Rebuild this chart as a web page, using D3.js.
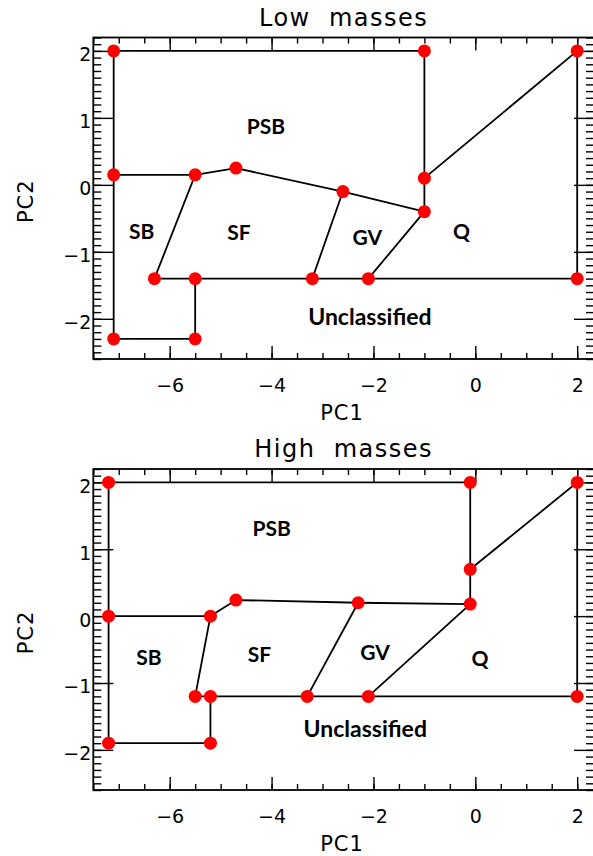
<!DOCTYPE html>
<html>
<head>
<meta charset="utf-8">
<script src="https://cdn.jsdelivr.net/npm/d3@7"></script>
<style>
  body { margin: 0; background: #fff; }
  svg { display: block; }
</style>
</head>
<body>
<div id="chart"></div>
<script>
// region names, shared by both panels
const regionNames = ["PSB", "SB", "SF", "GV", "Q", "Unclassified"];

// low masses: boundary polylines (PC1, PC2) and the nodes
const lowLines = [
  [[-7.1, 2], [-1, 2], [-1, -0.4]],
  [[-1, 0.1], [2, 2], [2, -1.4]],
  [[-7.1, 2], [-7.1, -2.3], [-5.5, -2.3], [-5.5, -1.4]],
  [[-7.1, 0.15], [-5.5, 0.15], [-4.7, 0.25], [-2.6, -0.1], [-1, -0.4]],
  [[-5.5, 0.15], [-6.3, -1.4], [2, -1.4]],
  [[-2.6, -0.1], [-3.2, -1.4]],
  [[-1, -0.4], [-2.1, -1.4]]
];
const lowDots = [[-7.1, 2], [-1, 2], [2, 2], [-7.1, 0.15], [-5.5, 0.15], [-4.7, 0.25],
  [-2.6, -0.1], [-1, 0.1], [-1, -0.4], [-6.3, -1.4], [-5.5, -1.4], [-3.2, -1.4],
  [-2.1, -1.4], [2, -1.4], [-7.1, -2.3], [-5.5, -2.3]];
const lowLabelX = [-4.11, -6.55, -4.64, -2.12, -0.27, -2.07];
const lowLabelY = [0.87, -0.70, -0.71, -0.79, -0.70, -1.97];

// high masses
const highLines = [
  [[-7.2, 2], [-0.1, 2], [-0.1, 0.18]],
  [[-0.1, 0.7], [2, 2], [2, -1.2]],
  [[-7.2, 2], [-7.2, -1.9], [-5.2, -1.9], [-5.2, -1.2]],
  [[-7.2, 0], [-5.2, 0], [-4.7, 0.24], [-2.3, 0.2], [-0.1, 0.18]],
  [[-5.2, 0], [-5.5, -1.2], [2, -1.2]],
  [[-2.3, 0.2], [-3.3, -1.2]],
  [[-0.1, 0.18], [-2.1, -1.2]]
];
const highDots = [[-7.2, 2], [-0.1, 2], [2, 2], [-0.1, 0.7], [-7.2, 0], [-5.2, 0],
  [-4.7, 0.24], [-2.3, 0.2], [-0.1, 0.18], [-5.5, -1.2], [-5.2, -1.2], [-3.3, -1.2],
  [-2.1, -1.2], [2, -1.2], [-7.2, -1.9], [-5.2, -1.9]];
const highLabelX = [-4.0, -6.41, -4.24, -1.97, 0.09, -2.16];
const highLabelY = [1.31, -0.62, -0.58, -0.54, -0.63, -1.69];

// axes
const xMajor = [-6, -4, -2, 0, 2];
const yMajor = [-2, -1, 0, 1, 2];
const xMinor = d3.range(-7.5, 2.31, 0.5);
const yMinor = d3.range(-26, 23).map(d => d / 10);

const W = 593, H = 856;
const left = 93.3, right = 594;
const fmt = d3.format("d");

const svg = d3.select("#chart").append("svg")
    .attr("width", W)
    .attr("height", H);

function panel(title, top, bottom, lines, dots, labX, labY) {
  const x = d3.scaleLinear().domain([-7.5, 2.33]).range([left, right]);
  const y = d3.scaleLinear().domain([-2.6, 2.2]).range([bottom, top]);
  const g = svg.append("g");

  // ticks, all pointing inward
  const tick = (axis, tr) => g.append("g")
      .attr("transform", tr)
      .call(axis)
      .call(a => a.select(".domain").remove())
      .call(a => a.selectAll("line").attr("stroke", "#000").attr("stroke-width", 1.4));

  tick(d3.axisBottom(x).tickValues(xMinor).tickSize(-6).tickFormat(""), `translate(0,${bottom})`);
  tick(d3.axisTop(x).tickValues(xMinor).tickSize(-6).tickFormat(""), `translate(0,${top})`);
  tick(d3.axisTop(x).tickValues(xMajor).tickSize(-13).tickFormat(""), `translate(0,${top})`);
  tick(d3.axisLeft(y).tickValues(yMinor).tickSize(-8).tickFormat(""), `translate(${left},0)`);
  tick(d3.axisRight(y).tickValues(yMinor).tickSize(-8).tickFormat(""), `translate(${right},0)`);
  tick(d3.axisRight(y).tickValues(yMajor).tickSize(-20).tickFormat(""), `translate(${right},0)`);

  const xb = tick(d3.axisBottom(x).tickValues(xMajor).tickSize(-13).tickPadding(20).tickFormat(fmt),
      `translate(0,${bottom})`);
  xb.selectAll("text")
      .attr("font-family", "DejaVu Sans").attr("font-size", 19).attr("fill", "#000");

  const yl = tick(d3.axisLeft(y).tickValues(yMajor).tickSize(-20).tickPadding(2).tickFormat(fmt),
      `translate(${left},0)`);
  yl.selectAll("text")
      .attr("font-family", "DejaVu Sans").attr("font-size", 19).attr("fill", "#000")
      .attr("dy", "0.52em");

  // frame
  g.append("rect")
      .attr("x", left).attr("y", top)
      .attr("width", right - left).attr("height", bottom - top)
      .attr("fill", "none").attr("stroke", "#000").attr("stroke-width", 1.8);

  // title and axis names
  g.append("text")
      .attr("x", (left + right) / 2).attr("y", top - 12)
      .attr("text-anchor", "middle")
      .attr("font-family", "DejaVu Sans").attr("font-size", 24)
      .attr("letter-spacing", 1.5)
      .style("white-space", "pre")
      .text(title);
  g.append("text")
      .attr("x", 342).attr("y", bottom + 61)
      .attr("text-anchor", "middle")
      .attr("font-family", "DejaVu Sans").attr("font-size", 21)
      .attr("letter-spacing", 1)
      .text("PC1");
  g.append("text")
      .attr("transform", `translate(33,${(top + bottom) / 2 + 3})rotate(-90)`)
      .attr("text-anchor", "middle")
      .attr("font-family", "DejaVu Sans").attr("font-size", 21)
      .attr("letter-spacing", 1)
      .text("PC2");

  // boundaries
  const line = d3.line().x(d => x(d[0])).y(d => y(d[1]));
  g.selectAll("path.bound")
    .data(lines)
    .enter()
    .append("path")
      .attr("class", "bound")
      .attr("d", line)
      .attr("fill", "none")
      .attr("stroke", "#000")
      .attr("stroke-width", 1.8);

  g.selectAll("circle")
    .data(dots)
    .enter()
    .append("circle")
      .attr("cx", d => x(d[0]))
      .attr("cy", d => y(d[1]))
      .attr("r", 6.5)
      .style("fill", "#ff0000");

  g.selectAll("text.region")
    .data(regionNames)
    .enter()
    .append("text")
      .attr("class", "region")
      .attr("x", (d, i) => x(labX[i]))
      .attr("y", (d, i) => y(labY[i]))
      .attr("dy", "0.36em")
      .attr("text-anchor", "middle")
      .attr("font-family", "Lato")
      .attr("font-weight", "bold")
      .attr("font-size", d => d.length > 3 ? 23 : 21)
      .text(d => d);
}

panel("Low  masses", 37.5, 359, lowLines, lowDots, lowLabelX, lowLabelY);
panel("High  masses", 469, 790, highLines, highDots, highLabelX, highLabelY);
</script>
</body>
</html>
